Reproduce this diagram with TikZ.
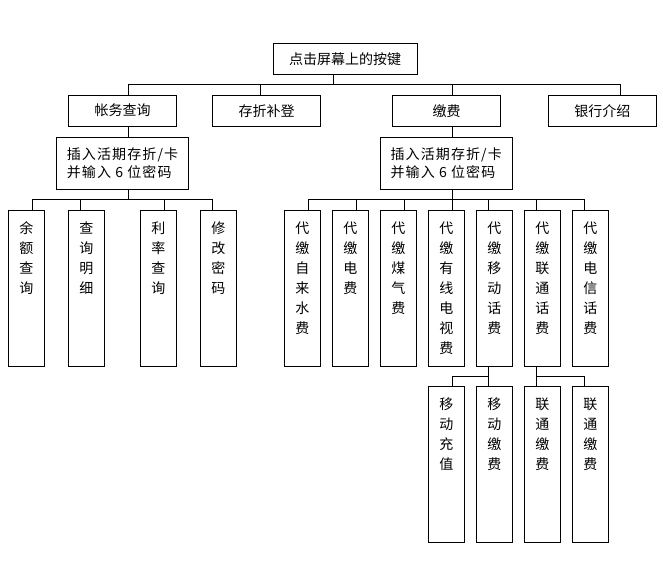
\documentclass[tikz,border=0pt]{standalone}
\usepackage{fontspec}
\newfontfamily\cjk{Noto Sans CJK SC}
\newfontfamily\cjkls[LetterSpace=8]{Noto Sans CJK SC}
\begin{document}
\begin{tikzpicture}[x=0.75pt,y=-0.75pt,line width=0.75pt,
  box/.style={draw,inner sep=0pt,font=\cjk\fontsize{10.5pt}{14pt}\selectfont},
  hbox/.style={box,minimum width=81pt,minimum height=23.5pt},
  ibox/.style={draw,inner sep=0pt,minimum width=99pt,minimum height=39pt,align=left,
    font=\cjkls\fontsize{10.5pt}{13.9pt}\selectfont},
  vbox/.style={draw,inner sep=0pt,minimum width=27pt,minimum height=117pt},
  vtxt/.style={inner sep=0pt,anchor=north,align=center,font=\cjk\fontsize{10.5pt}{15pt}\selectfont},
]
\useasboundingbox (0,0) rectangle (663,574);
% top levels
\node[box,minimum width=108pt,minimum height=23.25pt] (top) at (345,58.7) {点击屏幕上的按键};
\node[hbox] (A) at (122.5,110.7) {帐务查询};
\node[hbox] (B) at (266.5,110.7) {存折补登};
\node[hbox] (C) at (446.7,110.7) {缴费};
\node[hbox] (D) at (602.3,110.7) {银行介绍};
\node[ibox] (L) at (122.5,163.3) {插入活期存折/卡\\并输入 6 位密码};
\node[ibox] (R) at (446.2,163.3) {插入活期存折/卡\\并输入 6 位密码};
% left leaves
\node[vbox] (l1) at (26.3,288.2) {};
\node[vbox] (l2) at (86.3,288.2) {};
\node[vbox] (l3) at (158.3,288.2) {};
\node[vbox] (l4) at (218.3,288.2) {};
\node[vtxt] (l1t) at ([yshift=-8.5pt]l1.north) {余\\额\\查\\询};
\node[vtxt] (l2t) at ([yshift=-8.5pt]l2.north) {查\\询\\明\\细};
\node[vtxt] (l3t) at ([yshift=-8.5pt]l3.north) {利\\率\\查\\询};
\node[vtxt] (l4t) at ([yshift=-8.5pt]l4.north) {修\\改\\密\\码};
% right leaves
\node[vbox] (r1) at (302.3,288.2) {};
\node[vbox] (r2) at (350.3,288.2) {};
\node[vbox] (r3) at (398.3,288.2) {};
\node[vbox] (r4) at (446.3,288.2) {};
\node[vbox] (r5) at (494.3,288.2) {};
\node[vbox] (r6) at (542.3,288.2) {};
\node[vbox] (r7) at (590.3,288.2) {};
\node[vtxt] (r1t) at ([yshift=-8.5pt]r1.north) {代\\缴\\自\\来\\水\\费};
\node[vtxt] (r2t) at ([yshift=-8.5pt]r2.north) {代\\缴\\电\\费};
\node[vtxt] (r3t) at ([yshift=-8.5pt]r3.north) {代\\缴\\煤\\气\\费};
\node[vtxt] (r4t) at ([yshift=-8.5pt]r4.north) {代\\缴\\有\\线\\电\\视\\费};
\node[vtxt] (r5t) at ([yshift=-8.5pt]r5.north) {代\\缴\\移\\动\\话\\费};
\node[vtxt] (r6t) at ([yshift=-8.5pt]r6.north) {代\\缴\\联\\通\\话\\费};
\node[vtxt] (r7t) at ([yshift=-8.5pt]r7.north) {代\\缴\\电\\信\\话\\费};
% bottom leaves
\node[vbox] (m1) at (446.3,464.3) {};
\node[vbox] (m2) at (494.3,464.3) {};
\node[vbox] (u1) at (542.3,464.3) {};
\node[vbox] (u2) at (590.3,464.3) {};
\node[vtxt] (m1t) at ([yshift=-8.5pt]m1.north) {移\\动\\充\\值};
\node[vtxt] (m2t) at ([yshift=-8.5pt]m2.north) {移\\动\\缴\\费};
\node[vtxt] (u1t) at ([yshift=-8.5pt]u1.north) {联\\通\\缴\\费};
\node[vtxt] (u2t) at ([yshift=-8.5pt]u2.north) {联\\通\\缴\\费};
% junction coordinates
\coordinate (j0) at (333,85);
\coordinate (ja) at (128,85);
\coordinate (jb) at (260.3,85);
\coordinate (jc) at (452.7,85);
\coordinate (jd) at (620.7,85);
\coordinate (kl) at (128,199.3);
\coordinate (kl1) at (32.3,199.3);
\coordinate (kl2) at (80.3,199.3);
\coordinate (kl3) at (164.3,199.3);
\coordinate (kl4) at (212.3,199.3);
\coordinate (kr) at (452.7,199.3);
\coordinate (kr1) at (308.3,199.3);
\coordinate (kr2) at (356.3,199.3);
\coordinate (kr3) at (404.3,199.3);
\coordinate (kr4) at (452.5,199.3);
\coordinate (kr5) at (488.3,199.3);
\coordinate (kr6) at (536.3,199.3);
\coordinate (kr7) at (584.3,199.3);
\coordinate (bm) at (488.3,376.3);
\coordinate (bm1) at (452.3,376.3);
\coordinate (bu) at (536.3,376.3);
\coordinate (bu2) at (584.3,376.3);
% connectors
\draw (top.south -| j0) -- (j0);
\draw (A.north -| ja) -- (ja) -- (jd) -- (D.north -| jd);
\draw (B.north -| jb) -- (jb);
\draw (C.north -| jc) -- (jc);
\draw (A.south -| ja) -- (L.north -| ja);
\draw (C.south -| jc) -- (R.north -| jc);
\draw (L.south -| kl) -- (kl);
\draw (l1.north -| kl1) -- (kl1) -- (kl4) -- (l4.north -| kl4);
\draw (l2.north -| kl2) -- (kl2);
\draw (l3.north -| kl3) -- (kl3);
\draw (R.south -| kr) -- (kr);
\draw (r1.north -| kr1) -- (kr1) -- (kr7) -- (r7.north -| kr7);
\draw (r2.north -| kr2) -- (kr2);
\draw (r3.north -| kr3) -- (kr3);
\draw (r4.north -| kr4) -- (kr4);
\draw (r5.north -| kr5) -- (kr5);
\draw (r6.north -| kr6) -- (kr6);
\draw (r5.south -| bm) -- (bm);
\draw (m1.north -| bm1) -- (bm1) -- (bm) -- (m2.north -| bm);
\draw (r6.south -| bu) -- (bu);
\draw (u1.north -| bu) -- (bu) -- (bu2) -- (u2.north -| bu2);
\end{tikzpicture}
\end{document}
